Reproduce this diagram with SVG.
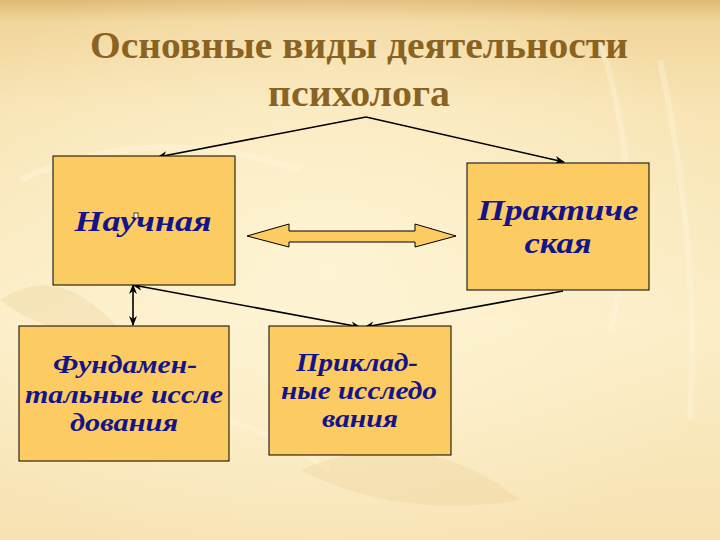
<svg xmlns="http://www.w3.org/2000/svg" width="720" height="540" viewBox="0 0 720 540">
<defs>
<linearGradient id="bg" x1="0" y1="0" x2="0" y2="1">
<stop offset="0" stop-color="#E0BA76"/>
<stop offset="0.04" stop-color="#F1D69C"/>
<stop offset="0.2" stop-color="#F8E4B4"/>
<stop offset="0.6" stop-color="#FBEDC6"/>
<stop offset="1" stop-color="#F7E2B2"/>
</linearGradient>
<radialGradient id="glow" cx="0.45" cy="0.5" r="0.6">
<stop offset="0" stop-color="#FFF6D8" stop-opacity="0.8"/>
<stop offset="1" stop-color="#FFF6D8" stop-opacity="0"/>
</radialGradient>
<marker id="ah" viewBox="0 0 10 10" refX="9" refY="5" markerWidth="10" markerHeight="10" markerUnits="userSpaceOnUse" orient="auto-start-reverse">
<path d="M0,1 L10,5 L0,9 L3,5 Z" fill="#000"/>
</marker>
<style>
.box{fill:#FCCB62;stroke:#000;stroke-width:1}
.lbl{font-family:"Liberation Serif","Times New Roman",serif;font-weight:bold;font-style:italic;fill:#14148A;text-anchor:middle}
.ttl{font-family:"Liberation Serif","Times New Roman",serif;font-weight:bold;fill:#8A6222;text-anchor:middle}
.con{fill:none;stroke:#000;stroke-width:1.6}
</style>
</defs>
<rect width="720" height="540" fill="url(#bg)"/>
<rect width="720" height="540" fill="url(#glow)"/>
<g opacity="0.35" fill="none" stroke="#FFF8E0" stroke-width="6">
<path d="M600,40 Q650,200 610,330"/>
<path d="M660,60 Q700,250 690,420"/>
<path d="M20,180 Q150,120 300,170"/>
<path d="M40,420 Q200,380 330,470"/>
</g>
<g opacity="0.25" fill="#E9C98C">
<path d="M300,470 Q420,420 520,500 Q400,520 300,470 Z"/>
<path d="M0,300 Q60,260 120,330 Q50,340 0,300 Z"/>
</g>
<g id="title">
<text class="ttl" x="359" y="58" font-size="38" textLength="538" lengthAdjust="spacingAndGlyphs">Основные виды деятельности</text>
<text class="ttl" x="359" y="106" font-size="38" textLength="182" lengthAdjust="spacingAndGlyphs">психолога</text>
</g>
<g id="connectors">
<line class="con" x1="366" y1="117" x2="158" y2="157" marker-end="url(#ah)"/>
<line class="con" x1="366" y1="117" x2="564" y2="162" marker-end="url(#ah)"/>
<line class="con" x1="133" y1="285" x2="360" y2="327" marker-start="url(#ah)" marker-end="url(#ah)"/>
<line class="con" x1="563" y1="291" x2="365" y2="327" marker-end="url(#ah)"/>
<line class="con" x1="133" y1="285" x2="133" y2="325" marker-start="url(#ah)" marker-end="url(#ah)"/>
<polygon points="247,236 289,224 289,231 415,231 415,224 456,236 415,247 415,242 289,242 289,247" fill="#FCCB62" stroke="#000" stroke-width="1"/>
</g>
<g id="nauchnaya">
<rect class="box" x="53" y="156" width="182" height="129"/>
<text class="lbl" x="143" y="231" font-size="29" textLength="137" lengthAdjust="spacingAndGlyphs">Научная</text>
<rect x="134" y="213" width="4" height="5" fill="#FFF" stroke="#000" stroke-width="0.7"/>
</g>
<g id="prakticheskaya">
<rect class="box" x="467" y="163" width="182" height="127"/>
<text class="lbl" x="558" y="220" font-size="29" textLength="161" lengthAdjust="spacingAndGlyphs">Практиче</text>
<text class="lbl" x="558" y="253" font-size="29" textLength="67" lengthAdjust="spacingAndGlyphs">ская</text>
</g>
<g id="fundamentalnye">
<rect class="box" x="19" y="326" width="210" height="135"/>
<text class="lbl" x="125" y="373" font-size="25" textLength="144" lengthAdjust="spacingAndGlyphs">Фундамен-</text>
<text class="lbl" x="124" y="403" font-size="25" textLength="198" lengthAdjust="spacingAndGlyphs">тальные иссле</text>
<text class="lbl" x="124" y="431" font-size="25" textLength="108" lengthAdjust="spacingAndGlyphs">дования</text>
</g>
<g id="prikladnye">
<rect class="box" x="269" y="326" width="182" height="129"/>
<text class="lbl" x="357" y="371" font-size="25" textLength="122" lengthAdjust="spacingAndGlyphs">Приклад-</text>
<text class="lbl" x="359" y="399" font-size="25" textLength="156" lengthAdjust="spacingAndGlyphs">ные исследо</text>
<text class="lbl" x="360" y="427" font-size="25" textLength="76" lengthAdjust="spacingAndGlyphs">вания</text>
</g>
</svg>
